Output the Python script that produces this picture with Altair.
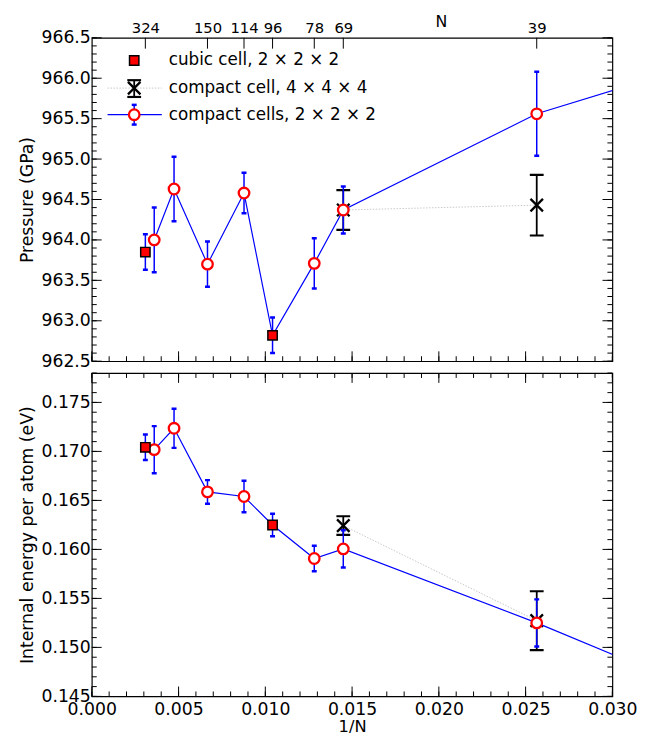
import altair as alt
import pandas as pd

# ---------------- data ----------------
cubic_n = [324, 96]
cubic_pressure = [963.85, 962.82]
cubic_pressure_err = [0.22, 0.22]
cubic_energy = [0.17042, 0.16249]
cubic_energy_err = [0.0013, 0.00115]

compact_n = [278, 211, 150, 114, 78, 69, 39, 32]
compact_pressure = [964.00, 964.63, 963.70, 964.58, 963.71, 964.37, 965.56, 965.93]
compact_pressure_err = [0.40, 0.40, 0.28, 0.25, 0.31, 0.29, 0.52, 0.50]
compact_energy = [0.17018, 0.17236, 0.16587, 0.16540, 0.15907, 0.16005, 0.15250, 0.14836]
compact_energy_err = [0.0024, 0.0020, 0.0012, 0.0016, 0.0013, 0.0019, 0.0024, 0.0024]

big_n = [69, 39]
big_pressure = [964.37, 964.43]
big_pressure_err = [0.245, 0.375]
big_energy = [0.16243, 0.15273]
big_energy_err = [0.00095, 0.0030]

top_tick_n = [324, 150, 114, 96, 78, 69, 39]
x_major = [0.000, 0.005, 0.010, 0.015, 0.020, 0.025, 0.030]
x_minor = [i / 1000 for i in range(31)]
p_major = [962.5, 963.0, 963.5, 964.0, 964.5, 965.0, 965.5, 966.0, 966.5]
p_minor = [round(962.5 + 0.1 * i, 1) for i in range(41)]
e_major = [0.145, 0.150, 0.155, 0.160, 0.165, 0.170, 0.175]
e_minor = [round(0.145 + 0.001 * i, 3) for i in range(34)]

legend_labels = ["cubic cell, 2 × 2 × 2", "compact cell, 4 × 4 × 4", "compact cells, 2 × 2 × 2"]

# ---------------- layout ----------------
W, H = 528, 328
FONT = "DejaVu Sans"
LAB = 17.5
TIT = 17.5
XPATH = "M-1,-1L1,1M-1,1L1,-1"
x_scale = alt.Scale(domain=[0, 0.030], nice=False, zero=False)


def frame(ns, vals, errs):
    xs = [1 / n for n in ns]
    return pd.DataFrame({
        "x": xs,
        "y": vals,
        "lo": [v - e for v, e in zip(vals, errs)],
        "hi": [v + e for v, e in zip(vals, errs)],
    })


def panel(kind):
    if kind == "p":
        cv, ce = cubic_pressure, cubic_pressure_err
        pv, pe = compact_pressure, compact_pressure_err
        bv, be = big_pressure, big_pressure_err
        ydom = [962.5, 966.5]
        ymaj, ymin = p_major, p_minor
        yaxis = alt.Axis(values=p_major, format=".1f", title="Pressure (GPa)",
                         domain=False, ticks=False, grid=False, labelPadding=1.5,
                         titlePadding=5, labelFontSize=LAB, titleFontSize=TIT)
        xaxis = alt.Axis(orient="top", values=[1 / n for n in top_tick_n],
                         labelExpr="round(1/datum.value)", title="N",
                         domain=False, ticks=False, grid=False, labelFontSize=15,
                         labelPadding=2, labelFlush=False, labelOverlap=False,
                         titleFontSize=16, titleX=354, titleY=-16,
                         titleAlign="center", titleBaseline="middle")
    else:
        cv, ce = cubic_energy, cubic_energy_err
        pv, pe = compact_energy, compact_energy_err
        bv, be = big_energy, big_energy_err
        ydom = [0.145, 0.178]
        ymaj, ymin = e_major, e_minor
        yaxis = alt.Axis(values=e_major, format=".3f",
                         title="Internal energy per atom (eV)",
                         domain=False, ticks=False, grid=False, labelPadding=1.5,
                         titlePadding=5, labelFontSize=LAB, titleFontSize=TIT)
        xaxis = alt.Axis(orient="bottom", values=x_major, format=".3f", title="1/N",
                         domain=False, ticks=False, grid=False, labelFontSize=LAB,
                         labelPadding=4, labelFlush=False, labelOverlap=False,
                         titleFontSize=16.5, titlePadding=1)

    y_scale = alt.Scale(domain=ydom, nice=False, zero=False)
    X = alt.X("x:Q", scale=x_scale, axis=xaxis)
    Y = alt.Y("y:Q", scale=y_scale, axis=yaxis)
    YLO = alt.Y("lo:Q", scale=y_scale, axis=yaxis)
    YHI = alt.Y("hi:Q", scale=y_scale, axis=yaxis)

    cub = frame(cubic_n, cv, ce)
    comp = frame(compact_n, pv, pe)
    big = frame(big_n, bv, be)
    line_df = pd.concat([comp, cub[cub["x"] > 0.005]]).sort_values("x")

    layers = []
    # compact 4x4x4 (gray dotted line, black error bars, X markers)
    layers.append(alt.Chart(big).mark_line(color="#c8c8c8", strokeWidth=1,
                                           strokeDash=[1.5, 1.5], clip=True).encode(x=X, y=Y))
    layers.append(alt.Chart(big).mark_rule(color="black", strokeWidth=1.8, clip=True).encode(
        x=X, y=YLO, y2="hi:Q"))
    for enc in (YLO, YHI):
        layers.append(alt.Chart(big).mark_tick(color="black", orient="horizontal", size=14,
                                               thickness=2.2, opacity=1, clip=True).encode(x=X, y=enc))
    layers.append(alt.Chart(big).mark_point(shape=XPATH, size=160, stroke="black",
                                            strokeWidth=2.3, filled=False, opacity=1,
                                            clip=True).encode(x=X, y=Y))
    # compact cells 2x2x2 line
    layers.append(alt.Chart(line_df).mark_line(color="#0000ff", strokeWidth=1.2,
                                               clip=True).encode(x=X, y=Y))
    # blue error bars for compact and cubic
    for df in (comp, cub):
        layers.append(alt.Chart(df).mark_rule(color="#0000ff", strokeWidth=1.5, clip=True).encode(
            x=X, y=YLO, y2="hi:Q"))
        for enc in (YLO, YHI):
            layers.append(alt.Chart(df).mark_tick(color="#0000ff", orient="horizontal", size=5,
                                                  thickness=2.5, opacity=1, clip=True).encode(x=X, y=enc))
    layers.append(alt.Chart(comp).mark_point(shape="circle", filled=True, fill="white",
                                             stroke="#ff0000", strokeWidth=2.3, size=115,
                                             opacity=1, clip=True).encode(x=X, y=Y))
    layers.append(alt.Chart(cub).mark_point(shape="square", filled=True, fill="#ff0000",
                                            stroke="black", strokeWidth=1.5, size=90,
                                            opacity=1, clip=True).encode(x=X, y=Y))

    # inward ticks
    tick = dict(color="black", strokeWidth=1)
    xmaj_df = pd.DataFrame({"x": x_major})
    xmin_df = pd.DataFrame({"x": x_minor})
    layers.append(alt.Chart(xmaj_df).mark_rule(**tick).encode(x=X, y=alt.value(H), y2=alt.value(H - 10)))
    layers.append(alt.Chart(xmin_df).mark_rule(**tick).encode(x=X, y=alt.value(H), y2=alt.value(H - 5)))
    if kind == "p":
        ntop = pd.DataFrame({"x": [1 / n for n in top_tick_n]})
        layers.append(alt.Chart(ntop).mark_rule(**tick).encode(x=X, y=alt.value(0), y2=alt.value(11)))
    else:
        layers.append(alt.Chart(xmaj_df).mark_rule(**tick).encode(x=X, y=alt.value(0), y2=alt.value(10)))
        layers.append(alt.Chart(xmin_df).mark_rule(**tick).encode(x=X, y=alt.value(0), y2=alt.value(5)))
    ymaj_df = pd.DataFrame({"y": ymaj})
    ymin_df = pd.DataFrame({"y": ymin})
    layers.append(alt.Chart(ymaj_df).mark_rule(**tick).encode(y=Y, x=alt.value(0), x2=alt.value(10)))
    layers.append(alt.Chart(ymin_df).mark_rule(**tick).encode(y=Y, x=alt.value(0), x2=alt.value(5)))
    layers.append(alt.Chart(ymaj_df).mark_rule(**tick).encode(y=Y, x=alt.value(W), x2=alt.value(W - 10)))
    layers.append(alt.Chart(ymin_df).mark_rule(**tick).encode(y=Y, x=alt.value(W), x2=alt.value(W - 5)))

    if kind == "p":
        base = alt.Chart(pd.DataFrame({"k": [0]}))
        # row 1: cubic cell
        layers.append(base.mark_point(shape="square", filled=True, fill="#ff0000", stroke="black",
                                      strokeWidth=1.5, size=90, opacity=1).encode(
            x=alt.value(43), y=alt.value(23)))
        # row 2: compact 4x4x4
        layers.append(base.mark_rule(color="#c8c8c8", strokeWidth=1, strokeDash=[1.5, 1.5]).encode(
            x=alt.value(16), x2=alt.value(71), y=alt.value(51)))
        layers.append(base.mark_rule(color="black", strokeWidth=1.8).encode(
            x=alt.value(43), y=alt.value(43), y2=alt.value(60)))
        layers.append(base.mark_rule(color="black", strokeWidth=2.2).encode(
            x=alt.value(36), x2=alt.value(50), y=alt.value(43)))
        layers.append(base.mark_rule(color="black", strokeWidth=2.2).encode(
            x=alt.value(36), x2=alt.value(50), y=alt.value(60)))
        layers.append(base.mark_point(shape=XPATH, size=160, stroke="black", strokeWidth=2.3,
                                      filled=False, opacity=1).encode(x=alt.value(43), y=alt.value(51)))
        # row 3: compact cells 2x2x2
        layers.append(base.mark_rule(color="#0000ff", strokeWidth=1.2).encode(
            x=alt.value(16), x2=alt.value(71), y=alt.value(78)))
        layers.append(base.mark_rule(color="#0000ff", strokeWidth=1.5).encode(
            x=alt.value(43), y=alt.value(68), y2=alt.value(88)))
        layers.append(base.mark_rule(color="#0000ff", strokeWidth=2.5).encode(
            x=alt.value(40.5), x2=alt.value(45.5), y=alt.value(68)))
        layers.append(base.mark_rule(color="#0000ff", strokeWidth=2.5).encode(
            x=alt.value(40.5), x2=alt.value(45.5), y=alt.value(88)))
        layers.append(base.mark_point(shape="circle", filled=True, fill="white", stroke="#ff0000",
                                      strokeWidth=2.3, size=115, opacity=1).encode(
            x=alt.value(43), y=alt.value(78)))
        for i, lab in enumerate(legend_labels):
            layers.append(base.mark_text(align="left", baseline="middle", fontSize=17,
                                         font=FONT, color="black").encode(
                x=alt.value(78), y=alt.value([23, 51, 78][i]), text=alt.value(lab)))

    return alt.layer(*layers).properties(width=W, height=H)


chart = alt.vconcat(panel("p"), panel("e"), spacing=0).properties(
    padding={"left": 9, "top": 0, "right": 0, "bottom": 0}
).configure_view(stroke="black", strokeWidth=1.2).configure_axis(
    labelFont=FONT, titleFont=FONT, labelColor="black", titleColor="black",
    titleFontWeight="normal"
).configure_text(font=FONT)

chart.save("out.html", embed_options={"renderer": "svg", "actions": False})
